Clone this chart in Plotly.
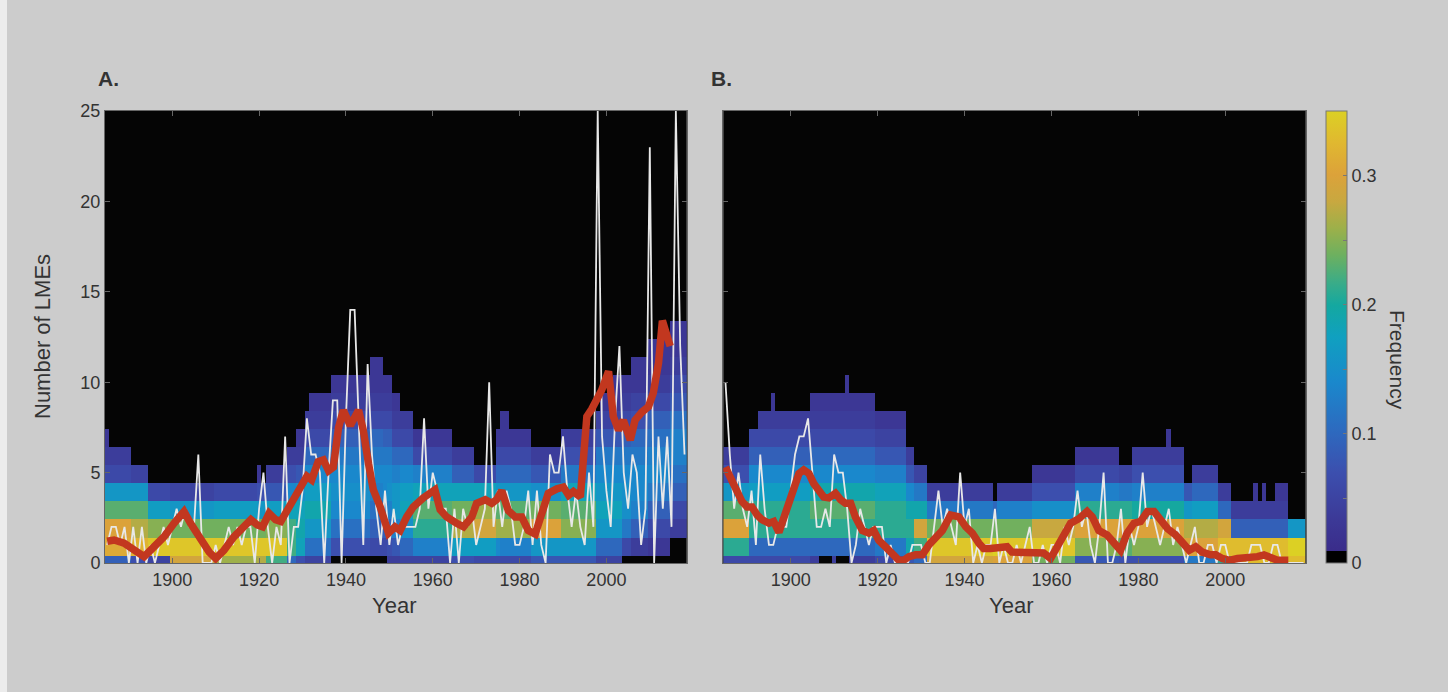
import plotly.graph_objects as go

# ---------------- data ----------------
years = list(range(1885, 2019))

# Panel A: annual number of LMEs (white line)
A_white = [1, 2, 2, 1, 2, 0, 2, 0, 2, 0, 1, 0, 1, 2, 1, 2, 3, 2, 3, 2,   # 1885-1904
           2, 6, 0, 0, 0, 1, 0, 1, 2, 1, 2, 1, 2, 2, 0, 3, 5, 2, 0, 2,   # 1905-1924
           1, 7, 0, 2, 2, 4, 8, 6, 6, 5, 0, 5, 9, 9, 0, 8, 14, 14, 7, 1,  # 1925-1944
           11, 6, 3, 1, 4, 1, 3, 1, 2, 2, 2, 2, 3, 8, 3, 5, 4, 3, 3, 0,  # 1945-1964
           3, 0, 3, 2, 3, 1, 2, 3, 10, 2, 4, 2, 4, 3, 1, 1, 2, 4, 1, 4,  # 1965-1984
           1, 0, 6, 5, 5, 7, 4, 2, 4, 2, 1, 5, 2, 25, 7, 4, 2, 8, 12, 5,  # 1985-2004
           3, 6, 5, 1, 3, 23, 0, 7, 3, 7, 2, 25, 12, 6]                  # 2005-2018

# Panel A: smoothed curve (red line)
A_red_years = [1885, 1886.6, 1888.9, 1891.2, 1893.5, 1895.8, 1898.1, 1900.4, 1902.7, 1904.2,
               1906.5, 1908.5, 1910, 1911.9, 1914.2, 1915.8, 1917.3, 1918.1, 1919.6, 1920.8,
               1922.3, 1923.8, 1925, 1926.5, 1928.1, 1929.6, 1931, 1932.1, 1933.6, 1934.8,
               1936, 1937.1, 1938.3, 1939.4, 1941, 1942.9, 1944, 1945.2, 1946.3, 1947.9,
               1949.8, 1951.3, 1952.5, 1954, 1955.5, 1957.8, 1959.8, 1960.5, 1961.7, 1963.2,
               1965.5, 1967.1, 1969, 1970.1, 1972.1, 1973.6, 1974.7, 1975.9, 1977.4, 1979,
               1980.5, 1982, 1983.6, 1985.1, 1986.6, 1988.6, 1990.1, 1991.3, 1992.4, 1994,
               1994.5, 1995.5, 1996.6, 1997.8, 1998.9, 2000.5, 2001.6, 2002.8, 2003.9, 2005.5,
               2006.6, 2008.2, 2009.7, 2010.8, 2012, 2012.9, 2013.6, 2014.7]
A_red_vals = [1.2, 1.27, 1.1, 0.7, 0.35, 0.9, 1.45, 2.2, 2.85, 2.2,
              1.3, 0.6, 0.25, 0.7, 1.45, 1.8, 2.1, 2.4, 2.1, 2.0,
              2.75, 2.4, 2.3, 2.9, 3.7, 4.2, 4.8, 4.6, 5.6, 5.7,
              5.1, 5.3, 7.5, 8.45, 7.6, 8.45, 7.35, 5.5, 4.05, 3.1,
              1.65, 2.0, 1.8, 2.55, 3.1, 3.6, 3.95, 4.05, 2.95, 2.55,
              2.2, 2.0, 2.55, 3.3, 3.5, 3.3, 3.5, 4.0, 2.9, 2.55,
              2.55, 1.8, 1.6, 2.9, 3.85, 4.1, 4.2, 3.75, 3.95, 3.65,
              5.5, 8.1, 8.5, 9.0, 9.55, 10.6, 8.1, 7.35, 7.9, 6.8,
              7.9, 8.35, 8.65, 9.4, 11.05, 13.4, 12.7, 12.0]

# Panel B: annual counts (white line)
B_white = [10, 6, 3, 5, 3, 2, 4, 1, 6, 3, 1, 1, 2, 2, 2, 4, 6, 7, 7, 8,   # 1885-1904
           5, 2, 2, 3, 2, 6, 5, 5, 3, 0, 1, 3, 2, 1, 2, 2, 2, 0, 1, 0,   # 1905-1924
           0, 0, 0, 1, 1, 1, 0, 0, 2, 4, 2, 3, 2, 1, 5, 2, 3, 0, 1, 0,   # 1925-1944
           1, 1, 3, 0, 1, 0, 0, 1, 0, 1, 2, 0, 0, 1, 0, 1, 1, 0, 2, 1,   # 1945-1964
           2, 4, 2, 3, 1, 0, 2, 5, 0, 0, 1, 3, 0, 2, 1, 2, 5, 2, 3, 2,   # 1965-1984
           1, 2, 3, 1, 2, 1, 0, 1, 2, 0, 0, 1, 1, 0, 1, 1, 0, 0, 0, 0,   # 1985-2004
           0, 1, 1, 1, 0, 0, 1, 1, 0, 0, 0, 0, 0, 0]                    # 2005-2018

B_red_years = [1885, 1885.4, 1886.5, 1887.7, 1888.8, 1890, 1891.1, 1892.3, 1893.4, 1895,
               1896.1, 1897.3, 1898.8, 1900.3, 1901.9, 1903, 1904.2, 1905.3, 1906.5, 1907.6,
               1908.8, 1910.3, 1911.5, 1912.6, 1913.8, 1914.9, 1916.5, 1918, 1919.1, 1920.3,
               1921.8, 1923.4, 1924.9, 1926, 1927.2, 1928.7, 1930.3, 1931.8, 1933.4, 1934.9,
               1936.8, 1938.7, 1940.3, 1941.8, 1943.3, 1944.4, 1946, 1947.9, 1949.8, 1950.9,
               1952.1, 1953.6, 1955.2, 1956.7, 1958.2, 1959.8, 1961.3, 1962.8, 1964.4, 1966.3,
               1968.2, 1969.4, 1970.9, 1972.8, 1974.4, 1975.9, 1977.4, 1979, 1980.5, 1982.1,
               1983.6, 1985.1, 1986.7, 1988.6, 1990.1, 1991.7, 1993.2, 1994.7, 1996.6, 1997.8,
               1999.3, 2000.9, 2002.8, 2005.1, 2007.4, 2008.9, 2010.5, 2012, 2014.5]
B_red_vals = [5.3, 5.1, 4.4, 3.85, 3.4, 3.1, 3.1, 2.65, 2.4, 2.2,
              2.3, 1.7, 2.85, 4.05, 4.95, 5.15, 4.95, 4.4, 4.05, 3.65,
              3.6, 3.85, 3.5, 3.3, 3.3, 2.55, 1.8, 1.65, 1.8, 1.25,
              0.9, 0.55, 0.15, 0.15, 0.35, 0.45, 0.45, 1.0, 1.45, 1.8,
              2.65, 2.55, 2.0, 1.65, 1.1, 0.8, 0.8, 0.8, 0.9, 0.6,
              0.6, 0.6, 0.6, 0.55, 0.55, 0.25, 0.9, 1.45, 2.2, 2.45,
              2.85, 2.55, 1.8, 1.55, 1.1, 0.7, 1.65, 2.2, 2.3, 2.85,
              2.85, 2.4, 1.9, 1.55, 1.1, 0.7, 0.9, 0.6, 0.45, 0.45,
              0.25, 0.15, 0.25, 0.25, 0.35, 0.45, 0.25, 0.15, 0.15]

# Heatmap frequencies: each era starts at a year and lists frequencies for rows 0,1,2,...
A_era_start = [1885, 1886, 1891, 1895, 1900, 1910, 1920, 1921, 1922, 1927, 1929, 1931, 1932,
               1937, 1946, 1949, 1950, 1951, 1953, 1956, 1965, 1970, 1975, 1976, 1978, 1983,
               1990, 1998, 1999, 2002, 2004, 2006, 2010, 2015]
A_era_freq = [
    [0.09, 0.31, 0.30, 0.23, 0.16, 0.06, 0.04, 0.03],
    [0.09, 0.31, 0.30, 0.23, 0.16, 0.06, 0.04],
    [0.07, 0.32, 0.27, 0.23, 0.16, 0.05],
    [0.05, 0.34, 0.25, 0.17, 0.06],
    [0.29, 0.34, 0.24, 0.16, 0.05],
    [0.26, 0.34, 0.24, 0.17, 0.06],
    [0.27, 0.34, 0.24, 0.16, 0.07, 0.03],
    [0.27, 0.34, 0.24, 0.16, 0.07],
    [0.22, 0.34, 0.25, 0.17, 0.08, 0.04],
    [0.10, 0.22, 0.22, 0.18, 0.14, 0.07, 0.04],
    [0.07, 0.18, 0.19, 0.18, 0.15, 0.08, 0.04, 0.03],
    [0.05, 0.11, 0.16, 0.19, 0.17, 0.14, 0.10, 0.06, 0.04],
    [0.05, 0.11, 0.16, 0.19, 0.17, 0.14, 0.10, 0.06, 0.04, 0.03],
    [0, 0.07, 0.11, 0.14, 0.15, 0.14, 0.12, 0.09, 0.06, 0.04, 0.03],
    [0, 0.06, 0.09, 0.11, 0.13, 0.14, 0.12, 0.10, 0.06, 0.04, 0.03, 0.03],
    [0, 0.06, 0.09, 0.12, 0.14, 0.14, 0.12, 0.09, 0.06, 0.04, 0.03],
    [0.04, 0.07, 0.10, 0.13, 0.15, 0.14, 0.12, 0.09, 0.06, 0.04, 0.03],
    [0.04, 0.08, 0.13, 0.16, 0.16, 0.13, 0.10, 0.06, 0.04, 0.03],
    [0.05, 0.10, 0.15, 0.18, 0.17, 0.14, 0.10, 0.06, 0.04],
    [0.05, 0.13, 0.21, 0.23, 0.18, 0.13, 0.06, 0.03],
    [0.07, 0.17, 0.27, 0.24, 0.18, 0.09, 0.04],
    [0.06, 0.17, 0.29, 0.26, 0.18, 0.06],
    [0.06, 0.14, 0.26, 0.23, 0.16, 0.10, 0.06, 0.03],
    [0.06, 0.13, 0.26, 0.23, 0.16, 0.10, 0.06, 0.03, 0.03],
    [0.06, 0.13, 0.26, 0.23, 0.16, 0.10, 0.06, 0.03],
    [0.08, 0.16, 0.30, 0.24, 0.15, 0.08, 0.04],
    [0.08, 0.16, 0.25, 0.23, 0.18, 0.12, 0.07, 0.04],
    [0.05, 0.10, 0.16, 0.18, 0.16, 0.14, 0.12, 0.08, 0.05],
    [0.05, 0.10, 0.16, 0.18, 0.16, 0.14, 0.12, 0.08, 0.05, 0.03],
    [0.05, 0.10, 0.16, 0.18, 0.16, 0.14, 0.12, 0.08, 0.05, 0.03, 0.03],
    [0, 0.06, 0.12, 0.15, 0.15, 0.14, 0.12, 0.09, 0.06, 0.04, 0.03],
    [0, 0.04, 0.09, 0.13, 0.14, 0.14, 0.12, 0.10, 0.07, 0.05, 0.03, 0.03],
    [0, 0.03, 0.06, 0.09, 0.12, 0.14, 0.13, 0.11, 0.09, 0.06, 0.04, 0.03, 0.03],
    [0, 0, 0.04, 0.06, 0.09, 0.11, 0.13, 0.13, 0.11, 0.08, 0.06, 0.04, 0.03, 0.03],
]

B_era_start = [1885, 1891, 1893, 1896, 1897, 1905, 1907, 1910, 1911, 1913, 1914, 1920, 1927,
               1929, 1932, 1947, 1948, 1956, 1966, 1976, 1979, 1987, 1988, 1991, 1993, 1999,
               2002, 2007, 2008, 2009, 2010, 2012, 2015]
B_era_freq = [
    [0.06, 0.21, 0.30, 0.23, 0.16, 0.07, 0.04],
    [0.06, 0.10, 0.21, 0.21, 0.17, 0.14, 0.09, 0.06],
    [0.06, 0.10, 0.21, 0.21, 0.17, 0.14, 0.09, 0.06, 0.04],
    [0.06, 0.10, 0.21, 0.21, 0.17, 0.14, 0.09, 0.06, 0.04, 0.03],
    [0.06, 0.10, 0.21, 0.21, 0.17, 0.14, 0.09, 0.06, 0.04],
    [0.04, 0.10, 0.21, 0.23, 0.19, 0.14, 0.10, 0.06, 0.04, 0.03],
    [0, 0.10, 0.21, 0.23, 0.19, 0.14, 0.10, 0.06, 0.04, 0.03],
    [0.04, 0.10, 0.21, 0.23, 0.19, 0.14, 0.10, 0.06, 0.04, 0.03],
    [0, 0.10, 0.21, 0.23, 0.19, 0.14, 0.10, 0.06, 0.04, 0.03],
    [0, 0.10, 0.21, 0.23, 0.19, 0.14, 0.10, 0.06, 0.04, 0.03, 0.03],
    [0.04, 0.10, 0.21, 0.23, 0.19, 0.14, 0.10, 0.06, 0.04, 0.03],
    [0.06, 0.12, 0.21, 0.21, 0.18, 0.13, 0.08, 0.05, 0.03],
    [0.08, 0.19, 0.21, 0.19, 0.14, 0.08, 0.04],
    [0.10, 0.22, 0.29, 0.19, 0.12, 0.05],
    [0.29, 0.34, 0.24, 0.12, 0.04],
    [0.30, 0.35, 0.24, 0.10],
    [0.30, 0.34, 0.24, 0.13, 0.04],
    [0.24, 0.34, 0.28, 0.15, 0.07, 0.03],
    [0.08, 0.25, 0.30, 0.21, 0.13, 0.06, 0.03],
    [0.07, 0.23, 0.30, 0.21, 0.12, 0.05],
    [0.07, 0.25, 0.30, 0.20, 0.13, 0.07, 0.04],
    [0.07, 0.25, 0.30, 0.20, 0.13, 0.07, 0.04, 0.03],
    [0.07, 0.25, 0.30, 0.20, 0.13, 0.07, 0.04],
    [0.12, 0.30, 0.27, 0.16, 0.08],
    [0.12, 0.30, 0.27, 0.17, 0.10, 0.04],
    [0.21, 0.33, 0.29, 0.10, 0.04],
    [0.33, 0.33, 0.09, 0.04],
    [0.33, 0.33, 0.09, 0.04, 0.03],
    [0.33, 0.33, 0.09, 0.04],
    [0.33, 0.33, 0.09, 0.04, 0.03],
    [0.33, 0.33, 0.09, 0.04],
    [0.33, 0.33, 0.09, 0.04, 0.03],
    [0.33, 0.35, 0.16],
]

x_ticks = [1900, 1920, 1940, 1960, 1980, 2000]
y_ticks = [0, 5, 10, 15, 20, 25]
cb_ticks = [0, 0.05, 0.1, 0.15, 0.2, 0.25, 0.3]
cb_labels = ["0", "", "0.1", "", "0.2", "", "0.3"]


def build_z(era_start, era_freq, nrows):
    z = [[None] * len(years) for _ in range(nrows)]
    for i, yr in enumerate(years):
        idx = max(j for j, s in enumerate(era_start) if s <= yr)
        for k, v in enumerate(era_freq[idx]):
            z[k][i] = v if v > 0 else None
    return z


NROWS = 15
row_centers = [k - 0.1 for k in range(NROWS)]
zA = build_z(A_era_start, A_era_freq, NROWS)
zB = build_z(B_era_start, B_era_freq, NROWS)

# parula-like colormap (as printed), black for zero
colorscale = [
    [0.0, "#000000"], [0.026, "#000000"],
    [0.0261, "#3a2c8a"], [0.10, "#3c3a98"], [0.20, "#3c4fae"], [0.30, "#2c6cc0"],
    [0.40, "#1a88cc"], [0.50, "#10a0c0"], [0.57, "#14a8a0"], [0.62, "#3aac88"],
    [0.68, "#6cb060"], [0.74, "#9cb04a"], [0.80, "#c8a840"], [0.86, "#dca23a"],
    [0.93, "#e0b830"], [1.0, "#dcd024"],
]

FONT = "Liberation Sans, Arial, Helvetica, sans-serif"
TXT = "#333333"
WHITE = "#e8e8e8"
RED = "#c2371f"

fig = go.Figure()
for z, white, ryears, rvals, xa, ya in [
    (zA, A_white, A_red_years, A_red_vals, "x", "y"),
    (zB, B_white, B_red_years, B_red_vals, "x2", "y2"),
]:
    fig.add_trace(go.Heatmap(x=years, y=row_centers, z=z, coloraxis="coloraxis",
                             xaxis=xa, yaxis=ya, hoverongaps=False))
    fig.add_trace(go.Scatter(x=years, y=white, mode="lines",
                             line=dict(color=WHITE, width=1.8), xaxis=xa, yaxis=ya,
                             showlegend=False))
    fig.add_trace(go.Scatter(x=ryears, y=rvals, mode="lines",
                             line=dict(color=RED, width=7.5), xaxis=xa, yaxis=ya,
                             showlegend=False))

W, H = 1448, 692
ydom = [(H - 563) / H, (H - 111) / H]
axis_common = dict(showline=True, linecolor="#666666", linewidth=1, mirror="allticks",
                   ticks="inside", ticklen=5, tickcolor="#666666", showgrid=False,
                   zeroline=False, layer="above traces", automargin=False,
                   tickfont=dict(family=FONT, size=18, color=TXT))
xcommon = dict(axis_common, range=[1884.5, 2018.5], tickvals=x_ticks)
ycommon = dict(axis_common, range=[0, 25], tickvals=y_ticks)


def label(text, x, y, size, angle=0):
    return dict(text=text, x=x / W, y=(H - y) / H, xref="paper", yref="paper",
                xanchor="center", yanchor="middle", textangle=angle, showarrow=False,
                font=dict(family=FONT, size=size, color=TXT))


fig.update_layout(
    width=W, height=H, autosize=False,
    margin=dict(l=0, r=0, t=0, b=0, autoexpand=False),
    paper_bgcolor="#cccccc", plot_bgcolor="#050505",
    showlegend=False,
    xaxis=dict(xcommon, domain=[105 / W, 686.7 / W], anchor="y"),
    yaxis=dict(ycommon, domain=ydom, anchor="x"),
    xaxis2=dict(xcommon, domain=[723.3 / W, 1305.7 / W], anchor="y2"),
    yaxis2=dict(ycommon, domain=ydom, anchor="x2", showticklabels=False),
    coloraxis=dict(
        colorscale=colorscale, cmin=0, cmax=0.35,
        colorbar=dict(x=1326 / W, xanchor="left", y=(H - 337) / H, yanchor="middle",
                      len=452, lenmode="pixels", thickness=21, thicknessmode="pixels",
                      outlinecolor="#777777", outlinewidth=1,
                      tickvals=cb_ticks, ticktext=cb_labels, ticks="inside", ticklen=4,
                      tickcolor="#777777",
                      tickfont=dict(family=FONT, size=18, color=TXT), xpad=0, ypad=0),
    ),
    shapes=[dict(type="rect", xref="paper", yref="paper", x0=0, x1=7 / W, y0=0, y1=1,
                 fillcolor="#ececec", line=dict(width=0), layer="below")],
    annotations=[
        label("Number of LMEs", 42, 337, 22, -90),
        label("Year", 394, 605, 22),
        label("Year", 1011, 605, 22),
        label("<b>A.</b>", 108, 79, 21),
        label("<b>B.</b>", 721, 79, 21),
        label("Frequency", 1398, 360, 21, 90),
    ],
)

fig.write_html("out.html", config={"displayModeBar": False},
               post_script="document.body.style.margin='0';"
                           "document.body.style.overflow='hidden';")
